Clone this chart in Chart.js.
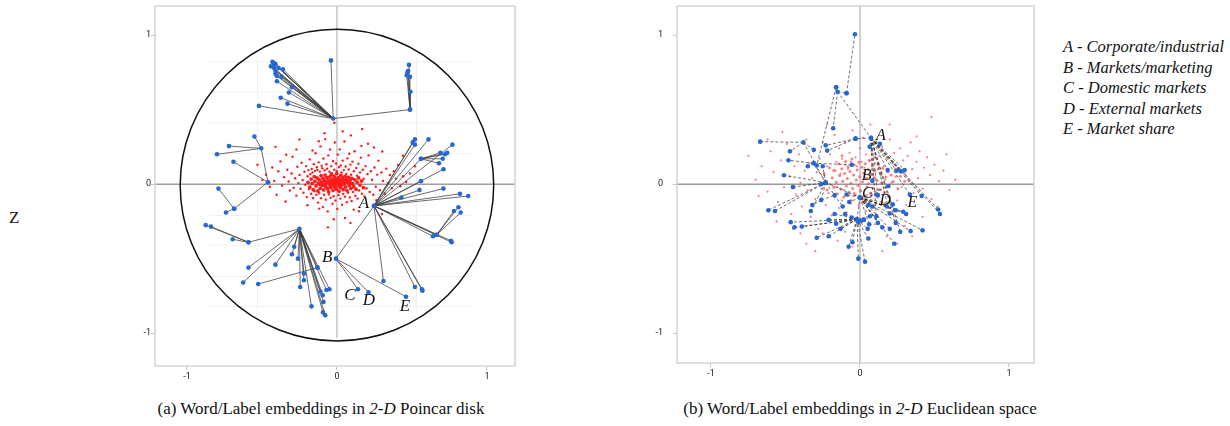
<!DOCTYPE html>
<html>
<head>
<meta charset="utf-8">
<script src="https://cdn.jsdelivr.net/npm/chart.js@4.4.1/dist/chart.umd.min.js"></script>
<style>
  body { margin: 0; width: 1230px; height: 426px; background: #fff; position: relative; overflow: hidden; font-family: "Liberation Serif", "DejaVu Serif", serif; color: #111; }
  canvas { position: absolute; top: 0; }
  #poincare { left: 110px; }
  #euclid { left: 630px; }
  .cap { position: absolute; top: 400px; font-size: 17px; line-height: 17px; white-space: nowrap; transform: translateX(-50%); }
  #key { position: absolute; left: 1063px; top: 37px; font-style: italic; font-size: 16.5px; line-height: 20.5px; white-space: nowrap; }
  #zlab { position: absolute; left: 9px; top: 209px; font-size: 17px; line-height: 17px; }
</style>
</head>
<body>
<canvas id="poincare" width="420" height="390"></canvas>
<canvas id="euclid" width="420" height="390"></canvas>
<div id="zlab">Z</div>
<div id="key">
  A - Corporate/industrial<br>
  B - Markets/marketing<br>
  C - Domestic markets<br>
  D - External markets<br>
  E - Market share
</div>
<div class="cap" style="left:321px">(a) Word/Label embeddings in <i>2-D</i> Poincar disk</div>
<div class="cap" style="left:860px">(b) Word/Label embeddings in <i>2-D</i> Euclidean space</div>
<script>
// tick values shown on both axes
const tickValues = [-1, 0, 1];
const labelLetters = ['A', 'B', 'C', 'D', 'E'];

// ---- (a) Poincare disk ----
// label letter positions (A..E)
const diskLabelPos = [[0.18, -0.128], [-0.065, -0.49], [0.087, -0.75], [0.213, -0.78], [0.453, -0.82]];

// label/word tree: [parent, [children]]
const diskBranches = [
  [[-0.025, 0.44], [[-0.04, 0.83], [-0.43, 0.82], [-0.42, 0.81], [-0.41, 0.805], [-0.44, 0.79], [-0.42, 0.78], [-0.39, 0.78], [-0.36, 0.77], [-0.41, 0.76], [-0.41, 0.74], [-0.40, 0.725], [-0.37, 0.72], [-0.40, 0.69], [-0.30, 0.65], [-0.32, 0.615], [-0.375, 0.58], [-0.33, 0.54], [-0.52, 0.525], [0.487, 0.50]]],
  [[0.487, 0.50], [[0.48, 0.80], [0.47, 0.75], [0.465, 0.73], [0.475, 0.76], [0.487, 0.72], [0.49, 0.62]]],
  [[-0.505, 0.24], [[-0.55, 0.32], [-0.72, 0.255], [-0.80, 0.20], [-0.46, 0.013]]],
  [[-0.46, 0.013], [[-0.69, 0.15], [-0.685, -0.165]]],
  [[-0.685, -0.165], [[-0.79, -0.03], [-0.74, -0.19]]],
  [[-0.25, -0.30], [[-0.59, -0.39], [-0.285, -0.42], [-0.30, -0.47], [-0.41, -0.54], [-0.26, -0.50], [-0.59, -0.56], [-0.625, -0.66], [-0.13, -0.56], [-0.22, -0.60], [-0.22, -0.645], [-0.245, -0.69], [-0.17, -0.82], [-0.11, -0.72], [-0.07, -0.71], [-0.05, -0.705], [-0.095, -0.745], [-0.09, -0.79], [-0.093, -0.86], [-0.078, -0.88]]],
  [[-0.59, -0.39], [[-0.875, -0.275], [-0.84, -0.285], [-0.695, -0.37]]],
  [[-0.13, -0.56], [[-0.525, -0.67]]],
  [[0.247, -0.146], [[0.52, 0.30], [0.505, 0.28], [0.52, 0.265], [0.61, 0.30], [0.77, 0.265], [0.56, 0.17], [0.71, 0.10], [0.56, 0.02], [0.71, -0.03], [0.43, -0.09], [0.55, -0.04], [0.82, -0.065], [0.875, -0.08], [0.665, -0.34], [0.64, -0.35], [0.76, -0.38], [0.765, -0.39], [0.31, -0.65], [0.52, -0.69], [0.567, -0.705], [0.57, -0.715]]],
  [[0.56, 0.17], [[0.69, 0.21], [0.72, 0.20], [0.735, 0.21], [0.68, 0.14], [0.705, 0.17]]],
  [[0.665, -0.34], [[0.81, -0.155], [0.78, -0.18], [0.825, -0.19]]],
  [[-0.007, -0.50], [[0.247, -0.146], [0.14, -0.705], [0.21, -0.725], [0.46, -0.755]]]
];

// word embeddings: dense core, then the scatter around it
const diskWordsCore = [[-0.193, 0.012], [-0.181, -0.021], [-0.172, 0.034], [-0.166, 0.003], [-0.158, -0.037], [-0.151, 0.051], [-0.147, 0.018], [-0.139, -0.012], [-0.133, 0.041], [-0.127, -0.046], [-0.122, 0.006], [-0.118, 0.029], [-0.111, -0.027], [-0.106, 0.057], [-0.102, 0.014], [-0.097, -0.008], [-0.093, 0.038], [-0.088, -0.039], [-0.084, 0.022], [-0.079, 0.061], [-0.075, -0.017], [-0.071, 0.009], [-0.068, 0.044], [-0.063, -0.031], [-0.059, 0.027], [-0.055, -0.052], [-0.052, 0.003], [-0.048, 0.049], [-0.044, 0.017], [-0.041, -0.022], [-0.037, 0.066], [-0.033, 0.031], [-0.029, -0.006], [-0.026, -0.041], [-0.022, 0.011], [-0.019, 0.053], [-0.015, -0.019], [-0.012, 0.036], [-0.008, 0.001], [-0.004, -0.033], [-0.001, 0.071], [0.003, 0.021], [0.006, -0.011], [0.009, 0.043], [0.013, -0.047], [0.016, 0.008], [0.02, 0.032], [0.023, -0.024], [0.027, 0.059], [0.031, 0.015], [0.034, -0.004], [0.038, 0.041], [0.042, -0.036], [0.046, 0.024], [0.05, 0.002], [0.054, 0.052], [0.058, -0.019], [0.063, 0.033], [0.067, -0.043], [0.072, 0.011], [0.077, 0.046], [0.082, -0.009], [0.087, 0.026], [0.093, -0.029], [0.099, 0.039], [0.105, 0.004], [0.112, -0.017], [0.119, 0.029], [0.127, -0.034], [0.135, 0.013], [0.144, 0.042], [0.153, -0.006], [0.164, 0.021], [0.176, -0.024], [-0.064, 0.009], [-0.035, 0.007], [-0.01, 0.019], [0.012, 0.028], [0.04, 0.012], [-0.086, -0.003], [-0.046, -0.01], [0.024, -0.003], [0.06, 0.017], [-0.02, 0.027], [0.0, 0.0], [-0.114, 0.0], [0.09, 0.006]];
const diskWords = [[-0.473, 0.063], [-0.447, -0.018], [-0.431, 0.112], [-0.418, 0.021], [-0.402, -0.071], [-0.391, 0.086], [-0.377, 0.153], [-0.366, -0.009], [-0.352, 0.047], [-0.343, -0.116], [-0.331, 0.097], [-0.322, 0.018], [-0.314, -0.043], [-0.303, 0.071], [-0.296, 0.184], [-0.288, -0.024], [-0.279, 0.039], [-0.271, -0.077], [-0.264, 0.117], [-0.257, 0.007], [-0.249, 0.062], [-0.243, -0.031], [-0.236, 0.143], [-0.229, 0.028], [-0.223, -0.058], [-0.217, 0.083], [-0.211, -0.004], [-0.206, 0.121], [-0.201, -0.087], [-0.196, 0.053], [-0.191, 0.094], [-0.186, -0.033], [-0.181, 0.166], [-0.177, 0.067], [-0.172, -0.064], [-0.168, 0.102], [-0.163, 0.078], [-0.159, -0.093], [-0.154, 0.134], [-0.15, -0.048], [-0.146, 0.089], [-0.142, 0.207], [-0.138, -0.072], [-0.134, 0.113], [-0.13, 0.096], [-0.126, -0.124], [-0.122, 0.146], [-0.118, -0.061], [-0.114, 0.084], [-0.11, 0.253], [-0.106, -0.094], [-0.102, 0.124], [-0.098, 0.107], [-0.094, -0.153], [-0.09, 0.172], [-0.086, -0.071], [-0.082, 0.093], [-0.078, 0.302], [-0.074, -0.104], [-0.07, 0.134], [-0.066, 0.104], [-0.062, -0.183], [-0.058, 0.193], [-0.054, -0.069], [-0.05, 0.083], [-0.046, 0.232], [-0.042, -0.092], [-0.038, 0.121], [-0.034, 0.074], [-0.03, -0.131], [-0.026, 0.154], [-0.022, -0.081], [-0.018, 0.097], [-0.014, 0.279], [-0.01, -0.109], [-0.006, 0.138], [-0.002, 0.087], [0.002, -0.167], [0.006, 0.198], [0.01, -0.074], [0.014, 0.114], [0.018, 0.233], [0.022, -0.097], [0.026, 0.126], [0.03, 0.079], [0.034, -0.138], [0.038, 0.158], [0.042, -0.066], [0.046, 0.094], [0.05, 0.286], [0.054, -0.084], [0.058, 0.118], [0.062, 0.068], [0.066, -0.121], [0.07, 0.173], [0.074, -0.058], [0.078, 0.099], [0.082, 0.204], [0.086, -0.089], [0.09, 0.131], [0.094, 0.063], [0.098, -0.113], [0.103, 0.151], [0.108, -0.052], [0.113, 0.086], [0.118, 0.221], [0.123, -0.078], [0.128, 0.109], [0.133, 0.057], [0.138, -0.097], [0.143, 0.137], [0.148, -0.043], [0.154, 0.079], [0.16, 0.178], [0.166, -0.064], [0.172, 0.097], [0.178, 0.036], [0.184, -0.083], [0.19, 0.121], [0.197, -0.028], [0.204, 0.068], [0.211, 0.193], [0.218, -0.052], [0.226, 0.087], [0.234, 0.029], [0.242, -0.071], [0.25, 0.112], [0.259, -0.018], [0.268, 0.064], [0.277, 0.158], [0.287, -0.041], [0.297, 0.079], [0.307, 0.021], [0.318, -0.063], [0.329, 0.104], [0.341, 0.008], [0.353, 0.061], [0.366, -0.027], [0.379, 0.087], [0.393, 0.037], [0.408, 0.129], [0.423, -0.014], [0.441, 0.053], [0.462, 0.014], [0.487, 0.072], [-0.497, 0.027], [-0.27, 0.233], [0.093, 0.327], [-0.121, 0.288], [0.207, 0.271], [0.038, 0.354], [-0.021, -0.236], [0.147, -0.182], [0.263, -0.108], [-0.197, -0.142], [0.054, -0.227], [-0.338, 0.197], [0.302, 0.219], [0.163, 0.257], [-0.163, 0.226], [-0.083, 0.341], [0.112, -0.171], [-0.118, -0.164], [0.247, 0.246], [-0.017, 0.412], [0.168, 0.37], [-0.41, 0.25], [0.44, 0.19], [0.09, -0.26], [-0.06, -0.29], [0.3, -0.2], [-0.25, 0.3], [0.52, 0.12], [0.55, -0.03], [-0.53, 0.13]];

// faint guide lines inside the disk
const diskGuideY = [0.82, 0.62, 0.41, 0.205, -0.21, -0.41, -0.62, -0.82];
const diskGuideX = [-0.53, 0.53];

// ---- (b) Euclidean space ----
const euclidLabelPos = [[0.141, 0.324], [0.045, 0.056], [0.049, -0.063], [0.17, -0.112], [0.351, -0.123]];

const euclidBranches = [
  [[-0.09, 0.61], [[-0.034, 1.005]]],
  [[-0.15, 0.62], [[-0.16, 0.65], [-0.09, 0.61], [-0.18, 0.375], [0.074, 0.31]]],
  [[-0.16, 0.65], [[-0.29, 0.125]]],
  [[0.074, 0.31], [[-0.03, 0.305], [0.134, 0.27], [0.065, 0.25], [0.186, 0.094], [0.246, 0.09], [0.273, 0.087], [0.30, 0.094], [0.335, -0.07], [0.414, -0.08], [0.525, -0.17], [0.537, -0.20], [0.11, -0.215], [0.24, -0.26], [0.083, 0.022], [0.12, -0.074], [0.20, -0.197], [0.27, -0.32]]],
  [[-0.03, 0.305], [[-0.23, 0.26], [-0.22, 0.225]]],
  [[-0.38, 0.28], [[-0.67, 0.285], [-0.47, 0.22], [-0.31, 0.23], [-0.23, 0.01]]],
  [[-0.31, 0.14], [[-0.48, 0.16], [-0.35, 0.12], [-0.055, 0.13]]],
  [[-0.23, 0.01], [[-0.51, 0.06], [-0.45, -0.02], [-0.26, 0.0], [-0.25, 0.12], [-0.31, 0.14], [-0.615, -0.175], [-0.57, -0.18], [-0.33, -0.18], [-0.116, -0.15], [0.0, -0.09]]],
  [[0.0, -0.09], [[0.11, -0.07], [0.19, -0.013], [0.056, -0.14], [0.083, -0.15], [0.18, -0.15], [0.22, -0.136], [0.24, -0.175], [0.29, -0.185], [0.31, -0.20], [0.34, -0.315], [0.42, -0.31], [0.23, -0.40], [0.15, -0.29], [0.12, -0.26], [0.062, -0.27], [0.20, -0.30], [-0.072, -0.12], [-0.09, -0.07]]],
  [[-0.02, -0.235], [[-0.05, -0.39], [-0.076, -0.42], [-0.011, -0.50], [0.034, -0.52], [0.056, -0.365], [0.052, -0.30], [-0.44, -0.29], [-0.465, -0.255], [-0.39, -0.285], [-0.29, -0.36], [-0.21, -0.35], [-0.17, -0.20], [-0.10, -0.20], [-0.16, -0.265], [-0.13, -0.30], [-0.21, -0.24], [-0.056, -0.225], [-0.011, -0.255], [0.007, -0.245], [0.027, -0.24], [0.067, -0.215], [0.0, -0.09]]],
  [[-0.26, -0.107], [[-0.32, -0.14], [-0.17, -0.074], [-0.23, 0.01]]]
];

const euclidWordsCore = [[-0.187, 0.043], [-0.176, -0.021], [-0.168, 0.091], [-0.159, 0.012], [-0.151, -0.064], [-0.143, 0.137], [-0.137, 0.058], [-0.129, -0.032], [-0.122, 0.104], [-0.116, 0.019], [-0.109, -0.087], [-0.103, 0.071], [-0.097, 0.152], [-0.091, -0.013], [-0.085, 0.038], [-0.079, 0.117], [-0.073, -0.054], [-0.067, 0.084], [-0.061, 0.006], [-0.055, 0.169], [-0.049, -0.029], [-0.043, 0.061], [-0.037, 0.128], [-0.031, -0.071], [-0.025, 0.027], [-0.019, 0.094], [-0.013, -0.011], [-0.007, 0.147], [-0.001, 0.049], [0.005, -0.046], [0.011, 0.113], [0.017, 0.016], [0.023, 0.074], [0.029, -0.081], [0.035, 0.136], [0.041, 0.037], [0.047, -0.018], [0.053, 0.098], [0.059, 0.003], [0.065, 0.159], [0.071, -0.059], [0.077, 0.066], [0.083, 0.121], [0.089, -0.027], [0.095, 0.044], [0.101, 0.089], [0.108, -0.072], [0.115, 0.024], [0.122, 0.132], [0.129, -0.038], [0.137, 0.071], [0.145, 0.008], [0.154, 0.107], [0.163, -0.056], [0.173, 0.047], [0.184, 0.087], [0.196, -0.014], [0.209, 0.061], [0.223, 0.018], [0.238, 0.099], [0.254, -0.031], [0.271, 0.053], [-0.205, 0.11], [-0.22, -0.04], [0.02, -0.12], [-0.06, -0.11], [0.1, 0.18], [-0.12, 0.19], [0.3, 0.02], [-0.24, 0.07]];
const euclidWords = [[-0.75, 0.19], [-0.70, 0.03], [-0.66, 0.12], [-0.62, -0.05], [-0.60, 0.22], [-0.58, 0.08], [-0.55, -0.12], [-0.53, 0.16], [-0.51, -0.02], [-0.49, 0.27], [-0.47, 0.05], [-0.46, -0.20], [-0.44, 0.12], [-0.43, -0.07], [-0.41, 0.20], [-0.40, 0.01], [-0.39, -0.15], [-0.37, 0.09], [-0.36, 0.30], [-0.35, -0.04], [-0.34, 0.14], [-0.33, -0.22], [-0.32, 0.04], [-0.31, 0.22], [-0.30, -0.10], [-0.29, 0.08], [-0.28, -0.30], [-0.27, 0.17], [-0.26, -0.03], [-0.25, 0.28], [-0.24, 0.06], [-0.23, -0.14], [-0.22, 0.12], [-0.21, -0.06], [-0.20, 0.20], [-0.20, 0.00], [-0.19, -0.21], [-0.18, 0.09], [-0.17, 0.33], [-0.17, -0.09], [-0.16, 0.15], [-0.15, -0.02], [-0.14, 0.24], [-0.14, -0.16], [-0.13, 0.07], [-0.12, -0.11], [-0.12, 0.17], [-0.11, -0.04], [-0.10, 0.28], [-0.10, 0.13], [-0.09, -0.19], [-0.08, 0.10], [-0.08, -0.08], [-0.07, 0.21], [-0.06, -0.13], [-0.06, 0.15], [-0.05, 0.36], [-0.04, -0.06], [-0.03, 0.18], [-0.03, -0.25], [-0.02, 0.12], [-0.01, -0.14], [0.00, 0.24], [0.00, -0.04], [0.01, 0.15], [0.02, -0.10], [0.02, 0.31], [0.03, 0.11], [0.04, -0.18], [0.04, 0.20], [0.05, 0.04], [0.06, -0.12], [0.06, 0.16], [0.07, 0.40], [0.08, -0.07], [0.08, 0.22], [0.09, 0.09], [0.10, -0.16], [0.10, 0.14], [0.11, 0.28], [0.12, -0.09], [0.12, 0.10], [0.13, 0.19], [0.14, -0.04], [0.14, 0.06], [0.15, 0.25], [0.16, -0.13], [0.16, 0.12], [0.17, 0.03], [0.18, 0.18], [0.19, -0.08], [0.19, 0.08], [0.20, 0.30], [0.21, 0.01], [0.22, 0.14], [0.22, -0.20], [0.23, 0.21], [0.24, 0.05], [0.25, -0.11], [0.26, 0.11], [0.27, 0.24], [0.28, -0.02], [0.29, 0.16], [0.30, 0.07], [0.31, -0.14], [0.32, 0.19], [0.33, 0.02], [0.34, 0.28], [0.35, 0.10], [0.36, -0.06], [0.38, 0.15], [0.39, 0.04], [0.40, 0.22], [0.42, -0.03], [0.43, 0.11], [0.45, 0.18], [0.47, 0.06], [0.48, -0.10], [0.50, 0.13], [0.53, 0.02], [0.56, 0.09], [0.60, -0.04], [0.64, 0.03], [0.48, 0.45], [0.38, 0.32], [-0.62, 0.30], [-0.40, -0.33], [-0.30, -0.45], [-0.15, -0.38], [0.05, -0.30], [0.18, -0.35], [0.30, -0.28], [0.15, -0.45], [-0.05, -0.42], [-0.45, -0.30], [-0.22, 0.40], [0.20, 0.40], [-0.36, -0.40], [0.42, -0.22], [0.52, -0.15], [-0.68, -0.08], [-0.56, -0.25], [0.10, -0.27], [-0.25, -0.33], [0.25, -0.40], [-0.10, -0.32], [0.35, -0.35], [-0.52, 0.35], [0.58, 0.20]];

// ---------------------------------------------------------------

const toXY = p => ({ x: p[0], y: p[1] });

// draws frame, zero lines, the disk and the A-E letters
const decor = {
  id: 'decor',
  beforeDatasetsDraw(chart, args, o) {
    const { ctx, chartArea: a, scales: { x, y } } = chart;
    ctx.save();
    // faint guides
    ctx.strokeStyle = '#f1f1f1';
    ctx.lineWidth = 1;
    (o.guideY || []).forEach(v => {
      ctx.beginPath();
      ctx.moveTo(x.getPixelForValue(-0.85), y.getPixelForValue(v));
      ctx.lineTo(x.getPixelForValue(0.91), y.getPixelForValue(v));
      ctx.stroke();
    });
    (o.guideX || []).forEach(v => {
      ctx.beginPath();
      ctx.moveTo(x.getPixelForValue(v), y.getPixelForValue(0.85));
      ctx.lineTo(x.getPixelForValue(v), y.getPixelForValue(-0.85));
      ctx.stroke();
    });
    // zero lines
    ctx.strokeStyle = o.vColor;
    ctx.lineWidth = o.vWidth;
    ctx.beginPath();
    ctx.moveTo(x.getPixelForValue(0), a.top);
    ctx.lineTo(x.getPixelForValue(0), o.vEnd !== undefined ? y.getPixelForValue(o.vEnd) : a.bottom);
    ctx.stroke();
    ctx.strokeStyle = o.hColor;
    ctx.lineWidth = o.hWidth;
    ctx.beginPath();
    ctx.moveTo(a.left, y.getPixelForValue(0));
    ctx.lineTo(a.right, y.getPixelForValue(0));
    ctx.stroke();
    // disk boundary
    if (o.radius) {
      const cx = x.getPixelForValue(0), cy = y.getPixelForValue(0);
      const rx = x.getPixelForValue(o.radius) - cx;
      const ry = cy - y.getPixelForValue(o.radius);
      ctx.strokeStyle = '#111';
      ctx.lineWidth = 1.5;
      ctx.beginPath();
      ctx.ellipse(cx, cy + 1, rx, ry, 0, 0, Math.PI * 2);
      ctx.stroke();
    }
    ctx.restore();
  },
  afterDatasetsDraw(chart, args, o) {
    const { ctx, scales: { x, y } } = chart;
    ctx.save();
    ctx.fillStyle = '#111';
    ctx.font = 'italic ' + o.letterSize + 'px "Liberation Serif", serif';
    ctx.textAlign = 'center';
    ctx.textBaseline = 'middle';
    o.letters.forEach((p, i) => {
      ctx.fillText(labelLetters[i], x.getPixelForValue(p[0]), y.getPixelForValue(p[1]));
    });
    ctx.restore();
  },
  afterDraw(chart) {
    const { ctx, chartArea: a } = chart;
    ctx.save();
    ctx.strokeStyle = '#d4d4d4';
    ctx.lineWidth = 1.5;
    ctx.strokeRect(a.left, a.top, a.right - a.left, a.bottom - a.top);
    ctx.restore();
  }
};

function makeChart(id, s) {
  const edges = s.branches.flatMap(([hub, kids]) => kids.map(k => ({
    data: [toXY(hub), toXY(k)],
    showLine: true,
    pointRadius: 0,
    borderColor: s.lineColor,
    borderWidth: s.lineWidth,
    borderDash: s.dash,
    order: 2
  })));
  const nodes = s.branches.flatMap(([hub, kids]) => [hub, ...kids]).map(toXY);

  const axis = (min, max, fit, tickLen, pad) => ({
    type: 'linear',
    min: min,
    max: max,
    afterBuildTicks: sc => { sc.ticks = tickValues.map(v => ({ value: v })); },
    afterFit: fit,
    grid: { drawOnChartArea: false, drawTicks: true, tickLength: tickLen, tickColor: '#c4c4c4', color: 'transparent' },
    border: { display: false },
    ticks: { padding: pad, color: '#222', font: { family: 'Roboto, sans-serif', size: 9 }, callback: v => String(v) }
  });

  return new Chart(document.getElementById(id), {
    type: 'scatter',
    data: {
      datasets: [
        { data: s.wordsCore.map(toXY), pointRadius: s.coreRadius, pointBorderWidth: 0, backgroundColor: s.wordColor, order: 4 },
        { data: s.words.map(toXY), pointRadius: s.wordRadius, pointBorderWidth: 0, backgroundColor: s.wordColor, order: 3 },
        ...edges,
        { data: nodes, pointRadius: 2.3, pointBorderWidth: 0, backgroundColor: '#2767cf', order: 1 }
      ]
    },
    options: {
      responsive: false,
      animation: false,
      layout: { padding: { top: 6, right: s.padRight, left: 0, bottom: 0 } },
      scales: {
        x: axis(s.xMin, s.xMax, sc => { sc.height = s.xAxisH; sc.paddingLeft = 0; sc.paddingRight = 0; }, 4, 1),
        y: axis(s.yMin, s.yMax, sc => { sc.width = s.yAxisW; sc.paddingTop = 0; sc.paddingBottom = 0; }, 4, s.yPad)
      },
      plugins: {
        legend: { display: false },
        tooltip: { enabled: false },
        decor: s.decor
      }
    },
    plugins: [decor]
  });
}

makeChart('poincare', {
  branches: diskBranches,
  wordsCore: diskWordsCore,
  words: diskWords,
  wordColor: '#ff1a1a',
  coreRadius: 1.9,
  wordRadius: 1.2,
  lineColor: 'rgba(60,60,60,0.85)',
  lineWidth: 0.9,
  dash: [],
  xMin: -1.213, xMax: 1.187, yMin: -1.22, yMax: 1.195,
  xAxisH: 24, yAxisW: 45, padRight: 15, yPad: 0,
  decor: {
    guideY: diskGuideY, guideX: diskGuideX,
    vColor: '#a8a8a8', vWidth: 1, vEnd: -1.03,
    hColor: '#a0a0a0', hWidth: 1.5,
    radius: 1.045,
    letters: diskLabelPos, letterSize: 17
  }
});

makeChart('euclid', {
  branches: euclidBranches,
  wordsCore: euclidWordsCore,
  words: euclidWords,
  wordColor: 'rgba(245,80,80,0.72)',
  coreRadius: 1.5,
  wordRadius: 1.1,
  lineColor: 'rgba(40,40,40,0.85)',
  lineWidth: 0.8,
  dash: [3, 2],
  xMin: -1.228, xMax: 1.168, yMin: -1.20, yMax: 1.195,
  xAxisH: 27, yAxisW: 47, padRight: 16, yPad: 10,
  decor: {
    vColor: '#cfcfcf', vWidth: 2,
    hColor: '#9a9a9a', hWidth: 1.5,
    letters: euclidLabelPos, letterSize: 16
  }
});
</script>
</body>
</html>
